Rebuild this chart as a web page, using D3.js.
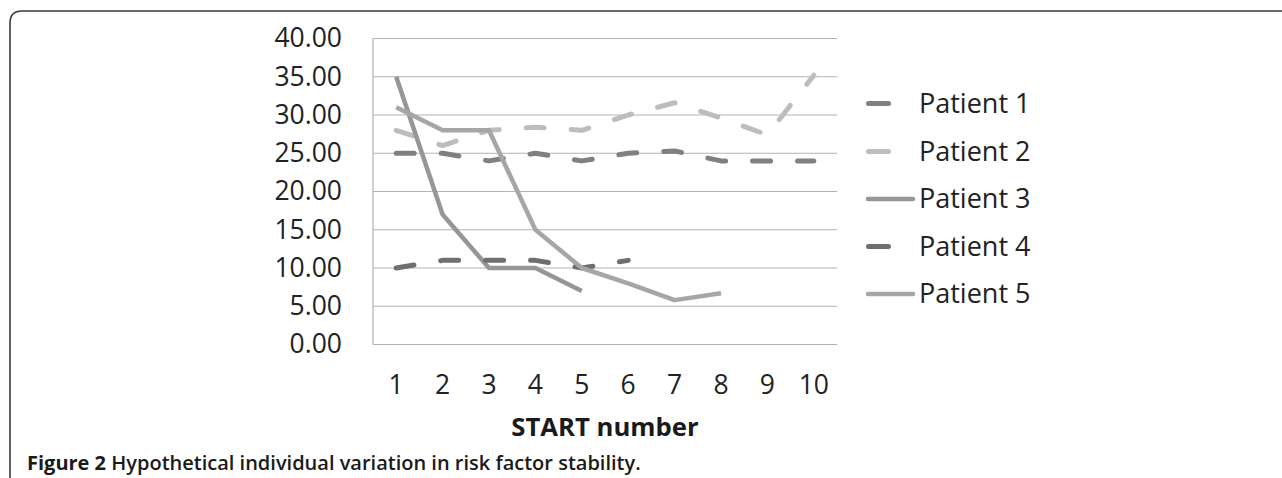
<!DOCTYPE html>
<html>
<head>
<meta charset="utf-8">
<script src="https://cdn.jsdelivr.net/npm/d3@7"></script>
<style>
  html, body { margin: 0; padding: 0; background: #fff; }
  svg { display: block; }
</style>
</head>
<body>
<svg id="chart" width="1282" height="478"></svg>
<script>
const categories = ["1","2","3","4","5","6","7","8","9","10"];
const yTicks = [0, 5, 10, 15, 20, 25, 30, 35, 40];
const seriesNames = ["Patient 1","Patient 2","Patient 3","Patient 4","Patient 5"];
const patient1 = [25, 25, 24, 25, 24, 25, 25.3, 24, 24, 24];
const patient2 = [28, 26, 28, 28.4, 28, 30, 31.6, 29.6, 27.4, 35.2];
const patient3 = [35, 17, 10, 10, 7];
const patient4 = [10, 11, 11, 11, 10, 11];
const patient5 = [31, 28, 28, 15, 10, 8, 5.8, 6.7];
const xTitle = "START number";
const captionBold = "Figure 2";
const captionRest = " Hypothetical individual variation in risk factor stability.";

(function () {
const seriesValues = [patient1, patient2, patient3, patient4, patient5];
const styles = [
  {color: "#808080", dashed: true},
  {color: "#bdbdbd", dashed: true},
  {color: "#969696", dashed: false},
  {color: "#6f6f6f", dashed: true},
  {color: "#a6a6a6", dashed: false}
];

const svg = d3.select("#chart");
const font = "'Open Sans', 'DejaVu Sans', sans-serif";

// frame
svg.append("path")
  .attr("d", "M10,480 L10,23 Q10,11 22,11 L1290,11")
  .attr("fill", "none").attr("stroke", "#3a3a3a").attr("stroke-width", 1.6);

const pLeft = 373, pRight = 837, pTop = 38.5, pBottom = 344.5;
const x = d3.scaleBand().domain(categories).range([pLeft, pRight]);
const y = d3.scaleLinear().domain([0, 40]).range([pBottom, pTop]);

// gridlines
svg.append("g").selectAll("line").data(yTicks).join("line")
  .attr("x1", pLeft).attr("x2", pRight)
  .attr("y1", d => y(d)).attr("y2", d => y(d))
  .attr("stroke", "#b3b3b3").attr("stroke-width", 1.2);

// left axis line
svg.append("line").attr("x1", pLeft).attr("x2", pLeft).attr("y1", pTop).attr("y2", pBottom)
  .attr("stroke", "#b3b3b3").attr("stroke-width", 1.2);

// y axis labels
const yAxis = d3.axisLeft(y).tickValues(yTicks).tickFormat(d3.format(".2f")).tickSize(0).tickPadding(31);
const gy = svg.append("g").attr("transform", `translate(${pLeft},0)`).call(yAxis);
gy.select(".domain").remove();
gy.selectAll("text").attr("font-family", font).attr("font-size", 26.5).attr("fill", "#222");

// x axis labels
const xAxis = d3.axisBottom(x).tickSize(0).tickPadding(31);
const gx = svg.append("g").attr("transform", `translate(0,${pBottom})`).call(xAxis);
gx.select(".domain").remove();
gx.selectAll("text").attr("font-family", font).attr("font-size", 26.5).attr("fill", "#222");

// x title
svg.append("text").attr("x", 605).attr("y", 436)
  .attr("text-anchor", "middle").attr("font-family", font).attr("font-weight", "bold")
  .attr("font-size", 25.7).attr("fill", "#1a1a1a").text(xTitle);

// lines
const line = d3.line().x((d, i) => x(categories[i]) + x.bandwidth() / 2).y(d => y(d));
seriesValues.forEach((vals, k) => {
  svg.append("path").datum(vals)
    .attr("d", line)
    .attr("fill", "none")
    .attr("stroke", styles[k].color)
    .attr("stroke-width", styles[k].dashed ? 5 : 4.5)
    .attr("stroke-linecap", styles[k].dashed ? "round" : "butt")
    .attr("stroke-linejoin", "round")
    .attr("stroke-dasharray", styles[k].dashed ? "18,27" : null);
});

// legend
const legendY = [103.5, 151.5, 199, 246.5, 294];
const lg = svg.append("g");
seriesNames.forEach((name, k) => {
  const yy = legendY[k];
  if (styles[k].dashed) {
    lg.append("line").attr("x1", 868.5).attr("x2", 888.5).attr("y1", yy).attr("y2", yy)
      .attr("stroke", styles[k].color).attr("stroke-width", 5).attr("stroke-linecap", "round");
  } else {
    lg.append("line").attr("x1", 868).attr("x2", 913).attr("y1", yy).attr("y2", yy)
      .attr("stroke", styles[k].color).attr("stroke-width", 4.5).attr("stroke-linecap", "round");
  }
  lg.append("text").attr("x", 919).attr("y", yy).attr("dy", "0.35em")
    .attr("font-family", font).attr("font-size", 27).attr("fill", "#222").text(name);
});

// caption
const cap = svg.append("text").attr("x", 27).attr("y", 470)
  .attr("font-family", font).attr("font-size", 20).attr("fill", "#1a1a1a");
cap.append("tspan").attr("font-weight", "bold").text(captionBold);
cap.append("tspan").attr("font-weight", 600).text(captionRest);
})();
</script>
</body>
</html>
